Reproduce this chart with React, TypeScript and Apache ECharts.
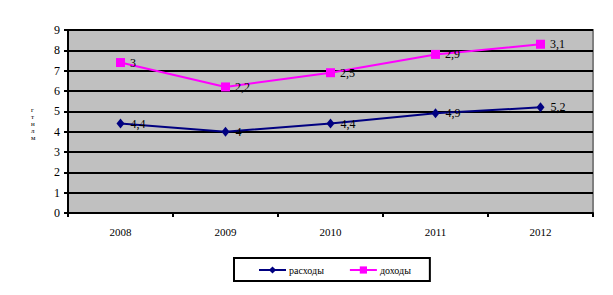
import React, { useEffect, useRef } from "react";
import * as echarts from "echarts";

const categories = ["2008", "2009", "2010", "2011", "2012"];
const expenses = [4.4, 4.0, 4.4, 4.9, 5.2];
const expenseLabels = ["4,4", "4", "4,4", "4,9", "5,2"];
const income = [7.4, 6.2, 6.9, 7.8, 8.3];
const incomeLabels = ["3", "2,2", "2,5", "2,9", "3,1"];
const yAxisChars = ["г", "т", "н", "л", "м"];

const FONT = "'Liberation Serif', 'Times New Roman', serif";

export default function App() {
  const ref = useRef<HTMLDivElement>(null);
  useEffect(() => {
    if (!ref.current) return;
    const chart = echarts.init(ref.current, null, { renderer: "svg" });
    chart.setOption({
      animation: false,
      backgroundColor: "#ffffff",
      textStyle: { fontFamily: FONT },
      grid: {
        left: 68,
        right: 20,
        top: 30,
        bottom: 82,
        show: true,
        backgroundColor: "#c0c0c0",
        borderColor: "#808080",
        borderWidth: 2,
      },
      graphic: [
        {
          type: "text",
          left: 31,
          top: 106,
          style: {
            text: yAxisChars.join("\n"),
            fontFamily: FONT,
            fontSize: 7,
            lineHeight: 7,
            fill: "#000",
            align: "center",
          },
        },
      ],
      legend: {
        left: 234,
        top: 258,
        itemWidth: 27,
        itemHeight: 9,
        itemGap: 25,
        padding: [7, 19, 6, 24],
        borderColor: "#000",
        borderWidth: 2,
        textStyle: { fontFamily: FONT, fontSize: 10, color: "#000", padding: [0, 0, 0, -2] },
        data: ["расходы", "доходы"],
      },
      xAxis: {
        type: "category",
        data: categories,
        boundaryGap: true,
        axisLine: { lineStyle: { color: "#000", width: 2 } },
        axisTick: { show: true, length: 4, interval: 0, lineStyle: { color: "#000", width: 2 } },
        axisLabel: { color: "#000", fontFamily: FONT, fontSize: 11, margin: 13 },
      },
      yAxis: {
        type: "value",
        min: 0,
        max: 9,
        interval: 1,
        axisLine: { show: true, lineStyle: { color: "#000", width: 2 } },
        axisTick: { show: true, length: 4, lineStyle: { color: "#000", width: 2 } },
        axisLabel: { color: "#000", fontFamily: FONT, fontSize: 12, margin: 8 },
        splitLine: { show: true, lineStyle: { color: "#000", width: 2 } },
      },
      series: [
        {
          name: "расходы",
          type: "line",
          data: expenses,
          color: "#000080",
          symbol: "diamond",
          symbolSize: [8, 10],
          lineStyle: { width: 2, color: "#000080" },
          itemStyle: { color: "#000080" },
          label: {
            show: true,
            position: "right",
            distance: 6,
            fontFamily: FONT,
            fontSize: 12,
            color: "#000",
            formatter: (p: any) => expenseLabels[p.dataIndex],
          },
        },
        {
          name: "доходы",
          type: "line",
          data: income,
          color: "#ff00ff",
          symbol: "rect",
          symbolSize: 9,
          lineStyle: { width: 2, color: "#ff00ff" },
          itemStyle: { color: "#ff00ff" },
          label: {
            show: true,
            position: "right",
            distance: 5,
            fontFamily: FONT,
            fontSize: 12,
            color: "#000",
            formatter: (p: any) => incomeLabels[p.dataIndex],
          },
        },
      ],
    });
    return () => chart.dispose();
  }, []);
  return <div ref={ref} style={{ width: 613, height: 295, position: "absolute", left: 0, top: 0 }} />;
}
